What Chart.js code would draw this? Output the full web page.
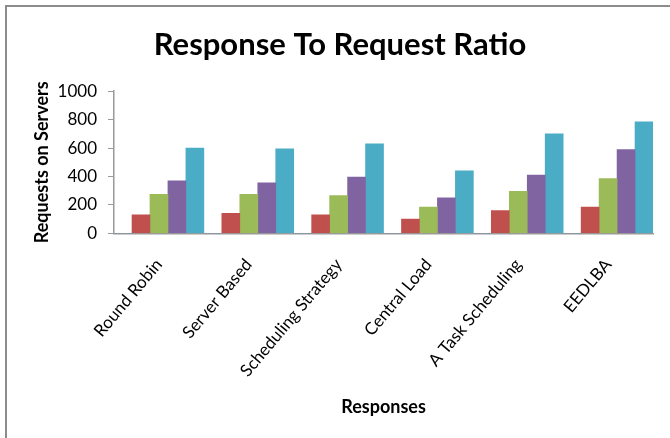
<!DOCTYPE html>
<html>
<head>
<meta charset="utf-8">
<script src="https://cdn.jsdelivr.net/npm/chart.js@4.4.1/dist/chart.umd.min.js"></script>
<style>
  html, body { margin: 0; padding: 0; background: #ffffff; }
  #wrap { position: relative; width: 670px; height: 438px; overflow: hidden; }
  #frame {
    position: absolute; left: 5px; top: 5px; right: -10px; bottom: -10px;
    border-top: 2px solid #8c8c8c; border-left: 2px solid #8c8c8c;
    pointer-events: none;
  }
  canvas { position: absolute; left: 0; top: 0; }
</style>
</head>
<body>
<div id="wrap">
  <canvas id="chart" width="670" height="438"></canvas>
  <div id="frame"></div>
</div>
<script>
const categories = ['Round Robin', 'Server Based', 'Scheduling Strategy', 'Central Load', 'A Task Scheduling', 'EEDLBA'];
// first series is empty in the picture (its slot stays blank in every group)
const series1 = [0, 0, 0, 0, 0, 0];
const series2 = [130, 140, 130, 100, 160, 185];
const series3 = [275, 275, 265, 185, 295, 385];
const series4 = [370, 355, 395, 250, 410, 590];
const series5 = [600, 595, 630, 440, 700, 785];
const yTicks = [0, 200, 400, 600, 800, 1000];

const fontFamily = 'Lato, "Open Sans", sans-serif';

const ctx = document.getElementById('chart').getContext('2d');
new Chart(ctx, {
  type: 'bar',
  data: {
    labels: categories,
    datasets: [
      { label: 'Series1', data: series1, backgroundColor: '#4F81BD' },
      { label: 'Series2', data: series2, backgroundColor: '#C0504D' },
      { label: 'Series3', data: series3, backgroundColor: '#9BBB59' },
      { label: 'Series4', data: series4, backgroundColor: '#8064A2' },
      { label: 'Series5', data: series5, backgroundColor: '#4BACC6' }
    ]
  },
  options: {
    responsive: false,
    animation: false,
    datasets: {
      bar: { categoryPercentage: 1, barPercentage: 1, borderWidth: 0 }
    },
    layout: { padding: { left: 27, right: 17, top: 8, bottom: 16 } },
    plugins: {
      legend: { display: false },
      tooltip: { enabled: false },
      title: {
        display: true,
        text: 'Response To Request Ratio',
        color: '#000000',
        font: { family: fontFamily, size: 31, weight: 'bold' },
        padding: { top: 18, bottom: 28 }
      }
    },
    scales: {
      x: {
        grid: { display: false, drawTicks: false },
        border: { color: '#9a9a9a', width: 1.5 },
        ticks: {
          color: '#000000',
          font: { family: fontFamily, size: 17 },
          minRotation: 50,
          maxRotation: 50,
          padding: 21.5
        },
        title: {
          display: true,
          text: 'Responses',
          color: '#000000',
          font: { family: fontFamily, size: 18, weight: 'bold' },
          padding: { top: -6 }
        }
      },
      y: {
        min: 0,
        max: 1000,
        afterBuildTicks: axis => { axis.ticks = yTicks.map(v => ({ value: v })); },
        grid: { drawOnChartArea: false, tickLength: 6, color: '#9a9a9a' },
        border: { color: '#9a9a9a', width: 1.5 },
        ticks: {
          color: '#000000',
          font: { family: fontFamily, size: 17 },
          padding: 11,
          callback: v => String(v)
        },
        title: {
          display: true,
          text: 'Requests on Servers',
          color: '#000000',
          font: { family: fontFamily, size: 18, weight: 'bold' },
          padding: { top: 4, bottom: -6 }
        }
      }
    }
  }
});
</script>
</body>
</html>
